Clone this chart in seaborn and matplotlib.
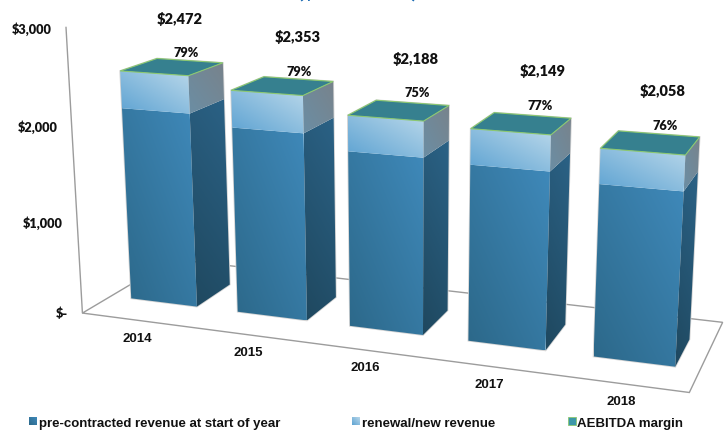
import numpy as np
import matplotlib
matplotlib.use("Agg")
import matplotlib.pyplot as plt
from matplotlib.patches import Polygon
import seaborn as sns

# Chart data ($ millions)
years = ["2014", "2015", "2016", "2017", "2018"]
totals = [2472, 2353, 2188, 2149, 2058]
pre_contracted = [2080, 1970, 1825, 1795, 1715]
margins = [79, 79, 75, 77, 76]
y_ticks = [0, 1000, 2000, 3000]
y_tick_labels = ["$-", "$1,000", "$2,000", "$3,000"]
series_names = ["pre-contracted revenue at start of year", "renewal/new revenue", "AEBITDA margin"]

# Hand-set label nudges (pixels, from the back-centre of each bar top)
total_nudge = [(-10, -43), (-1, -43), (3.5, -45), (10, -45.5), (4, -44)]
margin_nudge = [(-4, -10), (1, -9), (4.5, -12), (8, -11.5), (6, -10)]

# Camera mapping (category, depth, value in thousands) to canvas pixels
CAMERA = np.array([
    [103.2499996, 110.1467311, -6.5327411, 82.4169163],
    [5.5325678, -24.5917138, -95.7473677, 314.0673008],
    [-0.0263083, 0.1124033, -0.016042, 1.0],
])
BAR_START, BAR_WIDTH = 0.192, 0.623
DEPTH_FRONT, DEPTH_BACK = 0.297, 0.691


def project(cat, depth, value):
    h = CAMERA @ np.array([cat, depth, value / 1000.0, 1.0])
    return h[:2] / h[2]


sns.set_theme(style="white")
fig = plt.figure(figsize=(7.24, 4.31), dpi=100)
ax = fig.add_axes([0, 0, 1, 1])
ax.set_axis_off()

front_low = sns.blend_palette(["#2C6889", "#3F89BA"], as_cmap=True)
front_high = sns.blend_palette(["#5EA3D2", "#B8D7EA"], as_cmap=True)
side_low = sns.blend_palette(["#1F485F", "#2B6286"], as_cmap=True)
side_high = sns.blend_palette(["#6B8EA4", "#78838C"], as_cmap=True)
TOP_FILL = "#36808F"
TOP_EDGE = "#8CC870"
FRAME = "#9C9C9C"


def shaded_face(corners, cmap, direction=(1.0, 1.0), zorder=3):
    """Fill a quadrilateral with a diagonal gradient running along direction."""
    pts = np.array(corners)
    x0, y0 = pts.min(axis=0)
    x1, y1 = pts.max(axis=0)
    gx, gy = np.meshgrid(np.linspace(0, 1, 48), np.linspace(0, 1, 48))
    ramp = (gx * direction[0] + (1 - gy) * direction[1]) / (direction[0] + direction[1])
    im = ax.imshow(ramp, cmap=cmap, vmin=0, vmax=1, extent=(x0, x1, y1, y0),
                   origin="upper", aspect="auto", interpolation="bilinear", zorder=zorder)
    im.set_clip_path(Polygon(pts, closed=True, transform=ax.transData))


# Floor outline and value axis
floor = [project(0, 0, 0), project(5, 0, 0), project(5, 1, 0), project(0, 1, 0)]
ax.add_patch(Polygon(floor, closed=True, fill=False, ec=FRAME, lw=1.0, zorder=1))
axis_base, axis_top = project(0, 0, 0), project(0, 0, y_ticks[-1])
ax.plot([axis_base[0], axis_top[0]], [axis_base[1], axis_top[1]], color=FRAME, lw=1.0, zorder=1)

for tick, text in zip(y_ticks, y_tick_labels):
    px, py = project(0, 0, tick)
    ax.text(px - 14, py + 1 if tick else py, text, ha="right", va="center",
            family="Lato", weight="heavy", fontsize=9.2, color="#111111")

# Stacked bars: lower block, upper block, then the flat margin cap
for i, (year, total, pre, margin) in enumerate(zip(years, totals, pre_contracted, margins)):
    xl, xr = i + BAR_START, i + BAR_START + BAR_WIDTH
    zf, zb = DEPTH_FRONT, DEPTH_BACK
    halo = [project(xl, zf, 0), project(xr, zf, 0), project(xr, zb, 0),
            project(xr, zb, total), project(xl, zb, total), project(xl, zf, total)]
    ax.add_patch(Polygon(halo, closed=True, fill=False, ec="#D4D4D4", lw=1.2, zorder=2))

    shaded_face([project(xl, zf, 0), project(xr, zf, 0), project(xr, zf, pre), project(xl, zf, pre)],
                front_low)
    shaded_face([project(xl, zf, pre), project(xr, zf, pre), project(xr, zf, total), project(xl, zf, total)],
                front_high)
    shaded_face([project(xr, zf, 0), project(xr, zb, 0), project(xr, zb, pre), project(xr, zf, pre)],
                side_low, direction=(0.3, 1.0))
    shaded_face([project(xr, zf, pre), project(xr, zb, pre), project(xr, zb, total), project(xr, zf, total)],
                side_high, direction=(1.0, 1.0))
    ax.add_patch(Polygon([project(xl, zf, total), project(xr, zf, total),
                          project(xr, zb, total), project(xl, zb, total)],
                         closed=True, fc=TOP_FILL, ec=TOP_EDGE, lw=0.8, zorder=4))

    anchor = project((xl + xr) / 2, zb, total)
    ax.text(anchor[0] + total_nudge[i][0], anchor[1] + total_nudge[i][1], f"${total:,}",
            ha="center", va="center", family="Lato", weight="heavy", fontsize=10.5, color="#111111")
    ax.text(anchor[0] + margin_nudge[i][0], anchor[1] + margin_nudge[i][1] + 1, f"{margin}%",
            ha="center", va="center", family="Lato", weight="heavy", fontsize=9.2, color="#111111")

    base = project(i + 0.5, 0, 0)
    ax.text(base[0] + 1, base[1] + 17.5, year, ha="center", va="center",
            family="Liberation Sans", weight="bold", fontsize=9.5, color="#111111")

# Heading, cut by the top edge of the canvas
ax.text(358, -1.5, "($ in millions)", ha="center", va="baseline", family="Lato", weight="heavy",
        fontsize=14.5, color="#1F6DB4", clip_on=False)

# Legend row
legend_rows = [(29, 39, front_low, series_names[0]),
               (352, 362, front_high, series_names[1]),
               (568, 577, None, series_names[2])]
for sx, tx, cmap, name in legend_rows:
    box = [(sx, 418), (sx + 8, 418), (sx + 8, 426), (sx, 426)]
    if cmap is None:
        ax.add_patch(Polygon(box, closed=True, fc="#3C97A8", ec=TOP_EDGE, lw=0.6, zorder=3))
    else:
        shaded_face(box, cmap)
    ax.text(tx, 424.5, name, ha="left", va="center", family="Liberation Sans",
            weight="bold", fontsize=9.5, color="#111111")

ax.set_xlim(0, 724)
ax.set_ylim(431, 0)
fig.savefig("out.png", dpi=100, facecolor="white")
